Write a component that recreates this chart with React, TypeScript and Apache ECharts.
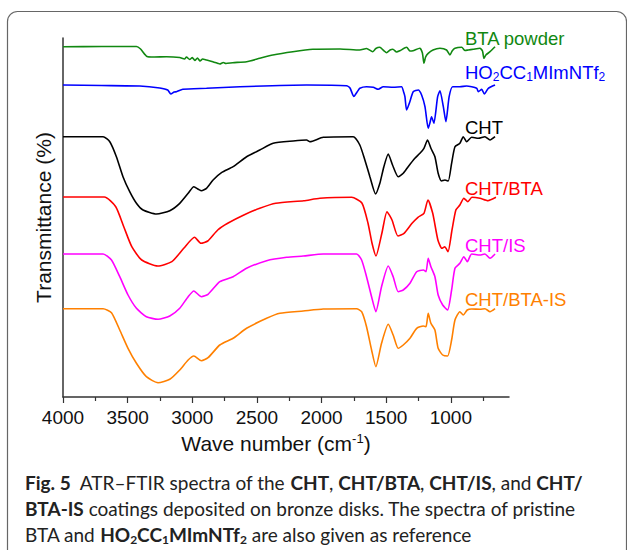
import React, { useEffect, useRef } from "react";
import * as echarts from "echarts";

// wavenumber (cm-1), transmittance (offset, a.u.)
const BTA_POWDER: [number, number][] = [
  [4000, 350.3], [3700, 350.5], [3432, 350.5], [3400, 348], [3350, 340.5], [3300, 340], [3200, 340.3],
  [3097, 339.5], [3060, 338], [3045, 340], [3020, 337.5], [3000, 339.5], [2980, 336.5], [2960, 339],
  [2940, 336], [2920, 338], [2890, 337], [2841, 335.3], [2800, 333.5], [2787, 333], [2760, 334.5],
  [2740, 333.5], [2687, 334.3], [2580, 335.3], [2478, 338.7], [2377, 342], [2222, 345.3], [2067, 347.7],
  [1857, 348], [1705, 347], [1652, 348.5], [1605, 345.3], [1580, 348.5], [1550, 349.7], [1520, 346.5],
  [1497, 344.3], [1470, 347], [1448, 347.7], [1420, 345], [1394, 346.3], [1342, 349.7], [1315, 346],
  [1293, 346.3], [1240, 348.7], [1220, 344], [1208, 333.7], [1195, 340], [1175, 343.7], [1138, 347],
  [1084, 348.7], [1033, 347], [1007, 342], [990, 346], [968, 348.7], [916, 349.7], [890, 346.5],
  [865, 347], [827, 347.7], [775, 348.7], [755, 346], [744, 338.7], [729, 342], [697, 345.3], [658, 350.3],
];

const IL_HO2CC1MIMNTF2: [number, number][] = [
  [4000, 312], [3700, 311.5], [3406, 311], [3251, 309], [3190, 307], [3166, 303], [3140, 305],
  [3122, 305.3], [3073, 307.7], [2890, 308.7], [2632, 310.3], [2116, 312], [1807, 311.3], [1780, 309],
  [1750, 300.5], [1725, 305], [1704, 308.7], [1652, 310.3], [1600, 309.7], [1561, 307.7], [1523, 310.3],
  [1446, 309.7], [1381, 310.3], [1365, 305], [1355, 300.3], [1342, 287], [1317, 295.3], [1291, 305.3],
  [1252, 307], [1226, 302], [1200, 290.3], [1175, 268.7], [1160, 275], [1149, 280.3], [1131, 273.7],
  [1102, 300.3], [1084, 306.3], [1058, 290.3], [1038, 275.3], [1013, 300.3], [986, 310.3], [930, 310.3],
  [878, 311], [800, 308.7], [787, 305.3], [761, 307.7], [741, 303], [710, 308.7], [658, 312],
];

const CHT: [number, number][] = [
  [4000, 260.3], [3690, 260.3], [3638, 255.3], [3587, 240.3], [3536, 220.3], [3484, 205.3], [3432, 193.7],
  [3381, 187], [3277, 183], [3174, 186.3], [3097, 193.7], [3032, 203.7], [2988, 210.3], [2950, 207.5],
  [2929, 206.3], [2890, 208.7], [2839, 217], [2774, 224.3], [2684, 230.3], [2580, 240.3], [2478, 247],
  [2374, 253.7], [2220, 256], [2116, 257], [2090, 255.3], [1987, 259.7], [1755, 260.3], [1704, 252],
  [1665, 237], [1626, 220.3], [1582, 203], [1549, 213.7], [1518, 230.3], [1484, 243], [1451, 232],
  [1407, 220.3], [1368, 223.7], [1330, 230.3], [1278, 238.7], [1239, 243.7], [1208, 248.7], [1180, 257],
  [1154, 248.7], [1123, 240.3], [1098, 223.7], [1072, 216], [1046, 217], [1020, 216], [994, 233.7],
  [968, 250.3], [930, 253.7], [904, 260.3], [878, 255.3], [839, 259.7], [787, 258.7], [736, 260.3],
  [697, 257], [658, 260.3],
];

const CHT_BTA: [number, number][] = [
  [4000, 200], [3680, 200], [3592, 190.3], [3530, 170.3], [3468, 150.3], [3391, 137], [3267, 131],
  [3158, 135.3], [3066, 148.7], [2982, 159.7], [2933, 153.7], [2880, 156], [2803, 167], [2726, 173.7],
  [2601, 182], [2478, 188.7], [2354, 193.7], [2137, 196.3], [2013, 198.7], [1767, 199.7], [1688, 194],
  [1641, 174], [1610, 154], [1579, 141], [1533, 164], [1494, 185.3], [1455, 177], [1409, 161],
  [1362, 163.7], [1300, 173.7], [1254, 179.7], [1208, 183.7], [1177, 197], [1140, 183.7], [1100, 157],
  [1069, 148.7], [1047, 150.3], [1022, 145.3], [991, 167], [961, 187], [930, 192], [899, 198.7],
  [868, 195.3], [837, 199.7], [775, 198.7], [713, 196.3], [651, 199.7],
];

const CHT_IS: [number, number][] = [
  [4000, 143], [3690, 143], [3625, 137], [3561, 120.3], [3497, 102], [3432, 88.7], [3355, 80.3],
  [3265, 77.7], [3174, 81], [3097, 88.7], [3032, 100.3], [2988, 106], [2929, 100.3], [2878, 102.7],
  [2787, 115.3], [2684, 120.3], [2580, 128.7], [2425, 136.3], [2270, 139.7], [2142, 141], [1987, 143],
  [1729, 143], [1690, 137], [1652, 120.3], [1613, 100.3], [1580, 85.3], [1536, 110.3], [1484, 131],
  [1446, 120.3], [1407, 105.3], [1368, 107], [1316, 113.7], [1264, 125.3], [1213, 127], [1192, 125.3],
  [1175, 138.7], [1154, 130.3], [1123, 120.3], [1098, 102], [1063, 92], [1025, 87], [994, 107],
  [968, 128.7], [930, 133.7], [899, 140.3], [873, 135.3], [839, 143], [775, 142], [736, 143],
  [697, 138.7], [658, 143],
];

const CHT_BTA_IS: [number, number][] = [
  [4000, 88.3], [3690, 88.3], [3625, 84.3], [3561, 67], [3497, 48.7], [3432, 33.7], [3355, 20.3],
  [3265, 14.3], [3174, 17.7], [3097, 27], [3032, 37], [2988, 41], [2929, 36.3], [2878, 39.3],
  [2787, 52], [2684, 58.7], [2580, 68.7], [2425, 78.7], [2322, 83.7], [2142, 86], [1987, 88],
  [1729, 88.3], [1690, 85.3], [1652, 70.3], [1613, 47], [1580, 30.3], [1536, 53.7], [1484, 72.7],
  [1446, 62], [1407, 48.7], [1368, 52], [1316, 58.7], [1264, 68.7], [1213, 71], [1192, 70.3],
  [1175, 83.7], [1154, 73.7], [1123, 67], [1098, 48.7], [1063, 42], [1025, 41], [994, 57],
  [968, 77], [930, 85.3], [904, 82], [873, 87], [839, 88], [775, 87.7], [736, 88.3], [697, 85.3],
  [658, 88.3],
];

const SERIES_NAMES = ["BTA powder", "HO2CC1MImNTf2", "CHT", "CHT/BTA", "CHT/IS", "CHT/BTA-IS"];
const SERIES_DATA = [BTA_POWDER, IL_HO2CC1MIMNTF2, CHT, CHT_BTA, CHT_IS, CHT_BTA_IS];
const SERIES_COLORS = ["#118811", "#0000ff", "#000000", "#ff0000", "#ff00ff", "#ff8000"];
const SERIES_LABELS = [
  "BTA powder",
  "HO{sub|2}CC{sub|1}MImNTf{sub|2}",
  "CHT",
  "CHT/BTA",
  "CHT/IS",
  "CHT/BTA-IS",
];
const MAJOR_TICKS = [4000, 3500, 3000, 2500, 2000, 1500, 1000];
const MINOR_TICKS = [3750, 3250, 2750, 2250, 1750, 1250, 750];
const CAPTION_LINES = [
  "{b|Fig. 5}  ATR–FTIR spectra of the {b|CHT}, {b|CHT/BTA}, {b|CHT/IS}, and {b|CHT/}",
  "{b|BTA-IS} coatings deposited on bronze disks. The spectra of pristine",
  "BTA and {b|HO}{bs|2}{b|CC}{bs|1}{b|MImNTf}{bs|2} are also given as reference",
];

const FONT = "'Liberation Sans', Arial, sans-serif";
const CAP_FONT = "Lato, 'Open Sans', sans-serif";
const CAP_SIZE = 19;

export default function App() {
  const ref = useRef<HTMLDivElement>(null);
  useEffect(() => {
    document.body.style.margin = "0";
    const chart = echarts.init(ref.current!, null, { renderer: "svg" });
    const labelYs = [38, 72, 127, 188, 245, 299];
    const capYs = [482, 508, 534];
    const option: any = {
      animation: false,
      backgroundColor: "#ffffff",
      grid: { left: 63, right: 118, top: 38, bottom: 153, containLabel: false, outerBoundsMode: "none" },
      xAxis: [
        {
          type: "value",
          inverse: true,
          min: 550,
          max: 4000,
          position: "bottom",
          axisLine: { show: true, lineStyle: { color: "#333", width: 1.5 } },
          axisTick: { show: true, customValues: MAJOR_TICKS, length: 6, lineStyle: { color: "#333", width: 1.2 } },
          axisLabel: {
            customValues: MAJOR_TICKS,
            formatter: (v: number) => String(v),
            fontSize: 19,
            color: "#111",
            fontFamily: FONT,
            margin: 11,
          },
          splitLine: { show: false },
          name: "Wave number (cm{sup|-1})",
          nameLocation: "middle",
          nameGap: 33,
          nameTextStyle: {
            fontSize: 21,
            color: "#111",
            fontFamily: FONT,
            padding: [0, 20, 0, 0],
            lineHeight: 24,
            rich: { sup: { fontSize: 13, fontFamily: FONT, color: "#111", verticalAlign: "top", lineHeight: 14 } },
          },
        },
        {
          type: "value",
          inverse: true,
          min: 550,
          max: 4000,
          position: "bottom",
          offset: 0,
          axisLine: { show: false },
          axisTick: { show: true, customValues: MINOR_TICKS, length: 4, lineStyle: { color: "#333", width: 1.2 } },
          axisLabel: { show: false },
          splitLine: { show: false },
        },
      ],
      yAxis: {
        type: "value",
        min: 0,
        max: 359,
        axisLine: { show: true, lineStyle: { color: "#333", width: 1.5 } },
        axisTick: { show: false },
        axisLabel: { show: false },
        splitLine: { show: false },
        name: "Transmittance (%)",
        nameLocation: "middle",
        nameGap: 9,
        nameTextStyle: { fontSize: 21, color: "#111", fontFamily: FONT },
      },
      series: SERIES_DATA.map((d, i) => ({
        type: "line",
        name: SERIES_NAMES[i],
        data: d,
        xAxisIndex: 0,
        showSymbol: false,
        symbol: "none",
        smooth: 0.2,
        lineStyle: { color: SERIES_COLORS[i], width: 1.6 },
        itemStyle: { color: SERIES_COLORS[i] },
      })),
      graphic: [
        {
          type: "rect",
          shape: { x: 7.5, y: 11.5, width: 619, height: 560, r: 10 },
          style: { fill: "none", stroke: "#666", lineWidth: 1.2 },
          z: -10,
        },
        ...SERIES_LABELS.map((t, i) => ({
          type: "text",
          x: 465,
          y: labelYs[i],
          style: {
            text: t,
            fill: SERIES_COLORS[i],
            fontSize: 18.5,
            fontFamily: FONT,
            verticalAlign: "middle",
            align: "left",
            lineHeight: 22,
            rich: {
              sub: { fill: SERIES_COLORS[i], fontSize: 12, fontFamily: FONT, verticalAlign: "bottom", lineHeight: 12, padding: [8, 0, 0, 0] },
            },
          },
        })),
        ...CAPTION_LINES.map((t, i) => ({
          type: "text",
          x: 25,
          y: capYs[i],
          style: {
            text: t,
            fill: "#222",
            fontSize: CAP_SIZE,
            fontFamily: CAP_FONT,
            verticalAlign: "middle",
            align: "left",
            lineHeight: 22,
            rich: {
              b: { fill: "#222", fontSize: CAP_SIZE, fontFamily: CAP_FONT, fontWeight: "bold", lineHeight: 22 },
              bs: { fill: "#222", fontSize: 12, fontFamily: CAP_FONT, fontWeight: "bold", verticalAlign: "bottom", lineHeight: 12, padding: [7, 0, 0, 0] },
            },
          },
        })),
      ],
    };
    chart.setOption(option);
    return () => chart.dispose();
  }, []);
  return <div ref={ref} style={{ width: 627, height: 550 }} />;
}
